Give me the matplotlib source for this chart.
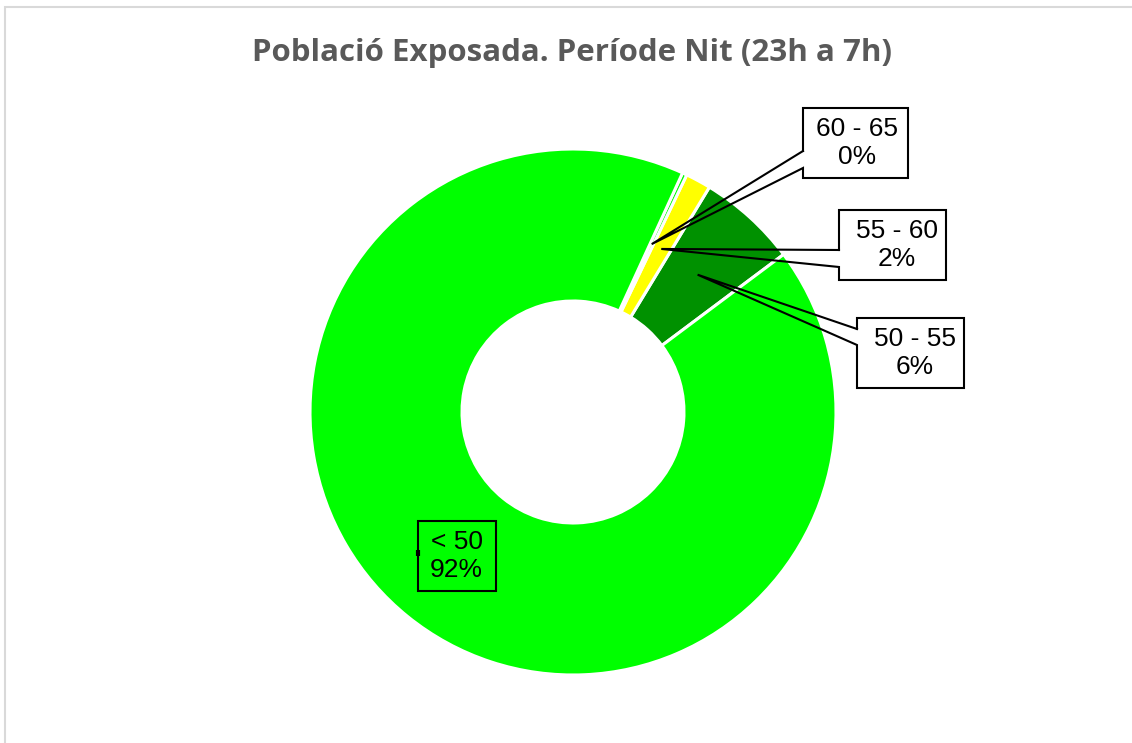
import matplotlib
matplotlib.use("Agg")
import matplotlib.pyplot as plt
from matplotlib.patches import Rectangle
import numpy as np

# Data (order drawn counter-clockwise starting at START_ANGLE)
categories = ["50 - 55", "55 - 60", "60 - 65", "< 50"]
values = [6.10, 1.56, 0.28, 92.06]
colors = ["#009100", "#FFFF00", "#00FF00", "#00FF00"]
title = "Població Exposada. Període Nit (23h a 7h)"

START_ANGLE = 36.8
W, H = 1132, 743
CX, CY, R = 573, 412, 263  # pixel centre and radius

fig = plt.figure(figsize=(W / 100, H / 100), dpi=100)
ax = fig.add_axes([(CX - R) / W, (H - CY - R) / H, 2 * R / W, 2 * R / H])

wedges, _ = ax.pie(values, colors=colors, startangle=START_ANGLE, counterclock=True,
                   radius=1.0, wedgeprops=dict(width=0.578, edgecolor="white", linewidth=2.2))
ax.set_xlim(-1, 1)
ax.set_ylim(-1, 1)
ax.set_aspect("equal")
ax.axis("off")


def px2d(px, py):
    return (px - CX) / R, (CY - py) / R


labels = [f"{c}\n{round(v):.0f}%" for c, v in zip(categories, values)]

# box layouts in pixels: (left, top, right, bottom)
boxes = {
    "60 - 65": (803, 108, 908, 178),
    "55 - 60": (839, 210, 946, 280),
    "50 - 55": (857, 318, 964, 388),
}
# callout attach points on box left edge (y pixels)
attach = {
    "60 - 65": (151, 168),
    "55 - 60": (250, 267),
    "50 - 55": (329, 345),
}
text_dx = {"60 - 65": 2, "55 - 60": 4, "50 - 55": 4.5}

FS = 19
LS = 1.22
for w, cat, lab in zip(wedges, categories, labels):
    mid = np.deg2rad((w.theta1 + w.theta2) / 2)
    r_anchor = 0.705
    axp, ayp = r_anchor * np.cos(mid), r_anchor * np.sin(mid)
    if cat in boxes:
        l, t, rr, b = boxes[cat]
        x0, y0 = px2d(l, b)
        x1, y1 = px2d(rr, t)
        ax.add_patch(Rectangle((x0, y0), x1 - x0, y1 - y0, facecolor="white",
                               edgecolor="none", zorder=5, clip_on=False))
        a1 = px2d(l, attach[cat][0])
        a2 = px2d(l, attach[cat][1])
        xs = [x0, x0, x1, x1, x0, a1[0], axp, a2[0], x0]
        ys = [a1[1], y1, y1, y0, y0, a2[1], ayp, a1[1], a1[1]]
        # outline: left edge top part, top, right, bottom, left edge bottom part, wedge
        xs = [a1[0], x0, x1, x1, x0, a2[0], axp, a1[0]]
        ys = [a1[1], y1, y1, y0, y0, a2[1], ayp, a1[1]]
        ax.plot(xs, ys, color="black", linewidth=1.5, zorder=6, clip_on=False,
                solid_joinstyle="miter")
        ax.text((x0 + x1) / 2 + text_dx[cat] / R, (y0 + y1) / 2, lab, ha="center",
                va="center", fontsize=FS, family="Liberation Sans", linespacing=LS,
                zorder=7, clip_on=False)
    else:
        bw, bh = 78 / R, 70 / R
        ax.add_patch(Rectangle((axp - bw / 2, ayp - bh / 2), bw, bh, facecolor="none",
                               edgecolor="black", linewidth=1.5, zorder=5))
        ax.plot([axp - bw / 2, axp - bw / 2], [ayp + 0.002, ayp + 0.022],
                color="black", linewidth=3, zorder=5, solid_capstyle="butt")
        ax.text(axp, ayp, lab, ha="center", va="center",
                fontsize=FS, family="Liberation Sans", linespacing=LS, zorder=6)

fig.text(572 / W, 1 - 53 / H, title, ha="center", va="center", fontsize=22.5,
         fontweight="bold", color="#595959", family="Open Sans")

# chart-area border (light gray, top and left visible)
fig.add_artist(Rectangle((5 / W, -0.01), 1.1, 1 - 7 / H + 0.01, transform=fig.transFigure,
                         facecolor="none", edgecolor="#d9d9d9", linewidth=1.5))

fig.savefig("out.png", dpi=100)
